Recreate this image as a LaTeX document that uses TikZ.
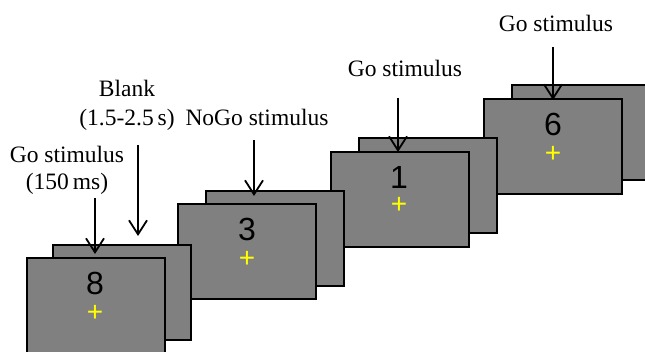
\documentclass[tikz,border=0pt]{standalone}
\usepackage{fontspec}
\setmainfont{Liberation Serif}
\newfontfamily\digitfont{Liberation Sans}
\usetikzlibrary{arrows.meta}
\definecolor{screengray}{RGB}{128,128,128}
\definecolor{crossyellow}{RGB}{255,255,0}
\begin{document}
\begin{tikzpicture}[x=1pt,y=-1pt,
 screen/.style={draw=black, line width=1.2pt, fill=screengray, minimum width=138pt, minimum height=95pt, anchor=north west, inner sep=0pt, outer sep=0pt},
 digit/.style={font=\digitfont\fontsize{32}{36}\selectfont, anchor=base, inner sep=0pt},
 cross/.style={text=crossyellow, font=\digitfont\fontsize{28}{32}\selectfont, anchor=base, inner sep=0pt},
 lbl/.style={font=\fontsize{23.5}{27}\selectfont, anchor=base, inner sep=0pt},
 pointer/.style={-{Straight Barb[length=14pt,width=18pt]}, line width=1.8pt}]
\useasboundingbox (0,0) rectangle (645,352);
% pair 4
\node[screen] (back4) at (512,85) {};
\node[screen] (front4) at (484,99) {};
\node[digit] (num4) at (553,136) {6};
\node[cross] (cross4) at (553,162.4) {+};
% pair 3
\node[screen] (back3) at (359,138) {};
\node[screen] (front3) at (331,152) {};
\node[digit] (num3) at (399,189) {1};
\node[cross] (cross3) at (399,214) {+};
% pair 2
\node[screen] (back2) at (206,191) {};
\node[screen] (front2) at (178,204) {};
\node[digit] (num2) at (247,241) {3};
\node[cross] (cross2) at (247,267.4) {+};
% pair 1
\node[screen] (back1) at (53,245) {};
\node[screen] (front1) at (27,258) {};
\node[digit] (num1) at (95,295) {8};
\node[cross] (cross1) at (95,321.4) {+};
% labels
\node[lbl] (go1a) at (67,163) {Go stimulus};
\node[lbl] (go1b) at (67,190) {(150\,ms)};
\node[lbl] (blanka) at (127,97) {Blank};
\node[lbl] (blankb) at (127,126) {(1.5-2.5\,s)};
\node[lbl] (nogo) at (257,126) {NoGo stimulus};
\node[lbl] (go3) at (405,77) {Go stimulus};
\node[lbl] (go4) at (556,32) {Go stimulus};
% arrow ends
\coordinate (a1s) at (95,198);  \coordinate (a1e) at (95,254);
\coordinate (abs) at (138,145); \coordinate (abe) at (138,236);
\coordinate (a2s) at (254,140); \coordinate (a2e) at (254,196);
\coordinate (a3s) at (398,98);  \coordinate (a3e) at (398,152);
\coordinate (a4s) at (553,47);  \coordinate (a4e) at (553,100);
\draw[pointer] (a1s) -- (a1e);
\draw[pointer] (abs) -- (abe);
\draw[pointer] (a2s) -- (a2e);
\draw[pointer] (a3s) -- (a3e);
\draw[pointer] (a4s) -- (a4e);
\end{tikzpicture}
\end{document}
